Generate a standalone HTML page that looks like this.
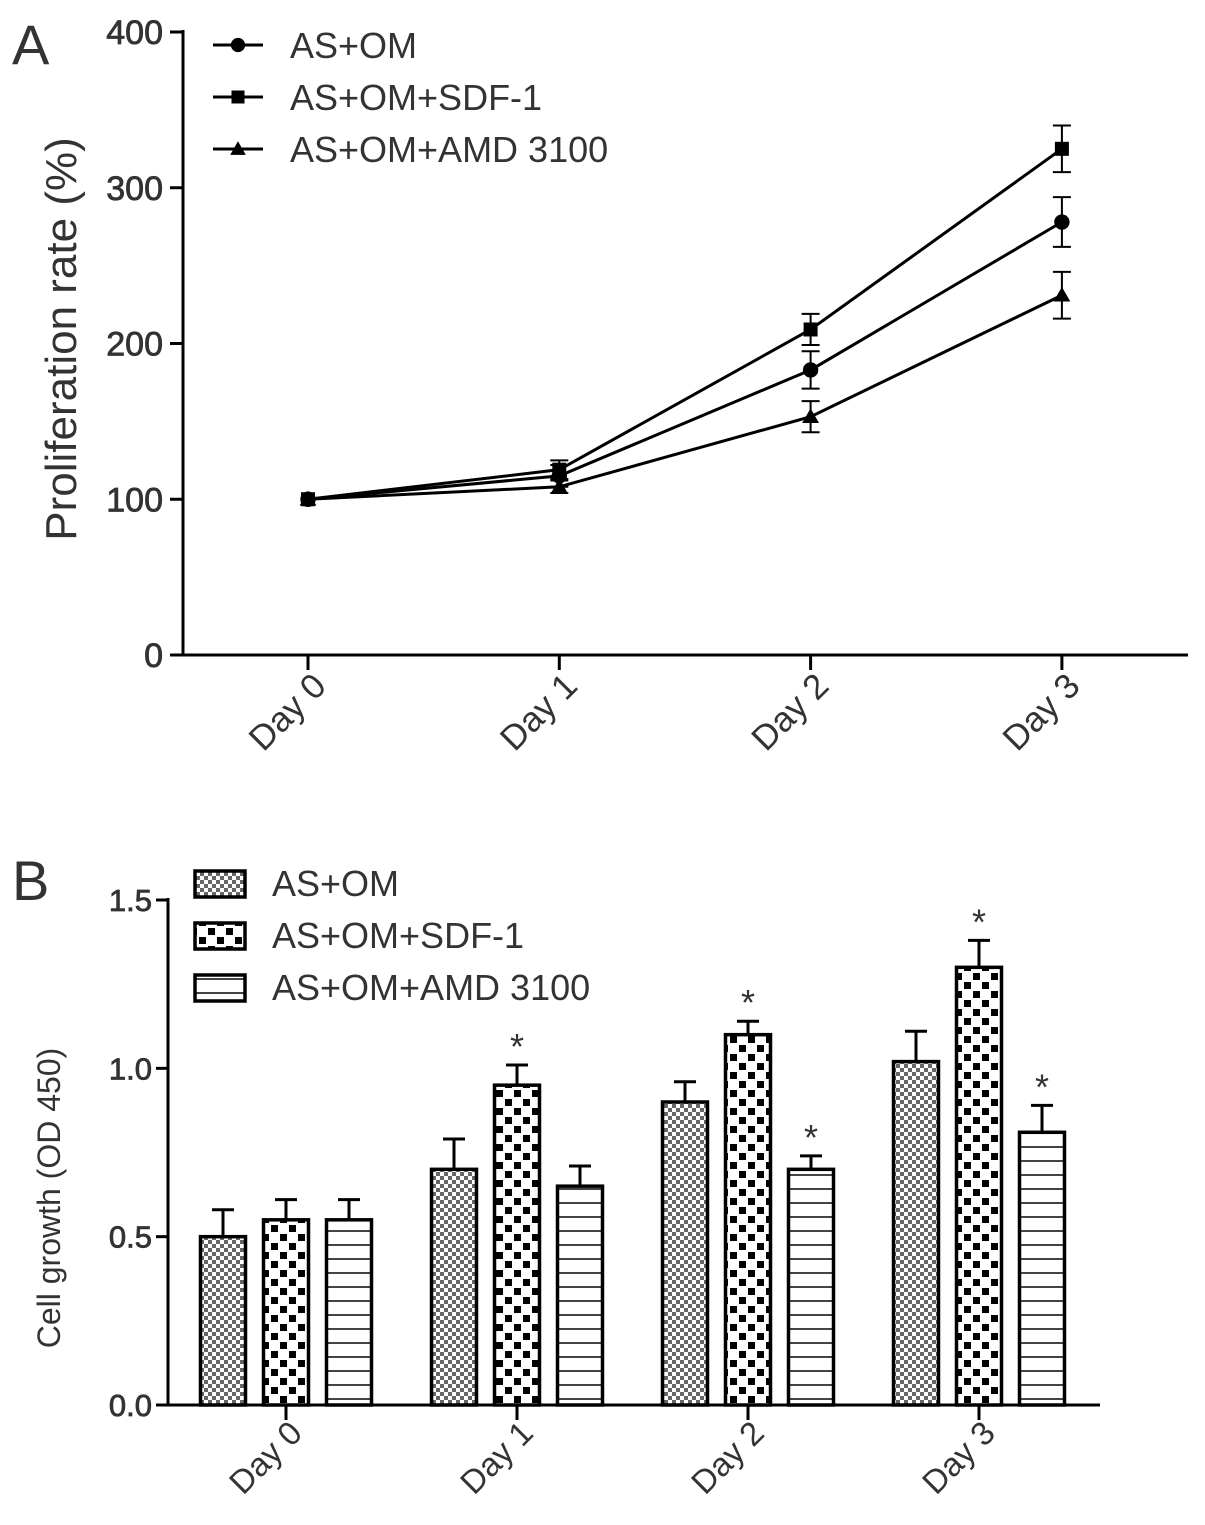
<!DOCTYPE html>
<html><head><meta charset="utf-8"><style>
html,body{margin:0;padding:0;background:#fff;}
svg{display:block;font-family:"Liberation Sans",Arial,sans-serif;}
</style></head><body>
<svg id="s" width="1205" height="1525" viewBox="0 0 1205 1525" xmlns="http://www.w3.org/2000/svg">
<defs>
<pattern id="pFine" width="8" height="8" patternUnits="userSpaceOnUse">
<rect width="8" height="8" fill="#fff"/><rect width="4" height="4" fill="#666"/><rect x="4" y="4" width="4" height="4" fill="#666"/>
</pattern>
<pattern id="pCheck" width="18" height="18" patternUnits="userSpaceOnUse">
<rect width="18" height="18" fill="#fff"/><rect x="1" y="1" width="7" height="7" fill="#000"/><rect x="10" y="10" width="7" height="7" fill="#000"/>
</pattern>
<pattern id="pLines" width="10" height="14" patternUnits="userSpaceOnUse">
<rect width="10" height="14" fill="#fff"/><rect y="12" width="10" height="2" fill="#444"/>
</pattern>
</defs>
<g id="A"></g>
<g id="B"></g>
</svg>
<script>
const daysA=["Day 0","Day 1","Day 2","Day 3"];
const omA=[100,115,183,278];
const omAerr=[0,7,12,16];
const sdfA=[100,119,209,325];
const sdfAerr=[0,6,10,15];
const amdA=[100,108,153,231];
const amdAerr=[0,4,10,15];
const ticksA=[0,100,200,300,400];

const daysB=["Day 0","Day 1","Day 2","Day 3"];
const omB=[0.50,0.70,0.90,1.02];
const omBerr=[0.08,0.09,0.06,0.09];
const sdfB=[0.55,0.95,1.10,1.30];
const sdfBerr=[0.06,0.06,0.04,0.08];
const amdB=[0.55,0.65,0.70,0.81];
const amdBerr=[0.06,0.06,0.04,0.08];
const starsSdf=[false,true,true,true];
const starsAmd=[false,false,true,true];
const ticksB=[0.0,0.5,1.0,1.5];
const ticksBLabels=["0.0","0.5","1.0","1.5"];

const NS="http://www.w3.org/2000/svg";
function mk(p,t,a,txt){const e=document.createElementNS(NS,t);for(const k in a)e.setAttribute(k,a[k]);if(txt!=null)e.textContent=txt;p.appendChild(e);return e;}
const TC='#333';

// ---- Chart A
const A=document.getElementById('A');
const yA=v=>655-v*(623/400);
const xA=i=>308+i*251.3;
let e;
e=mk(A,'line',{x1:183,y1:30,x2:183,y2:656,stroke:'#000','stroke-width':3});

e=mk(A,'line',{x1:182,y1:655,x2:1188,y2:655,stroke:'#000','stroke-width':3});

ticksA.forEach(t=>{
 mk(A,'line',{x1:170,y1:yA(t),x2:183,y2:yA(t),stroke:'#000','stroke-width':3});
 e=mk(A,'text',{x:163,y:yA(t)+12,'text-anchor':'end','font-size':34,stroke:TC,'stroke-width':0.8,fill:TC},String(t));
 
});
daysA.forEach((d,i)=>{
 mk(A,'line',{x1:xA(i),y1:655,x2:xA(i),y2:670,stroke:'#000','stroke-width':3});
 e=mk(A,'text',{x:0,y:0,'text-anchor':'end','font-size':35,fill:TC,transform:`translate(${xA(i)+20},${688}) rotate(-45)`},d);
 
});
e=mk(A,'text',{x:0,y:0,'text-anchor':'middle','font-size':44,fill:TC,transform:'translate(76,339) rotate(-90)'},'Proliferation rate (%)');

e=mk(A,'text',{x:12,y:64,'font-size':56,fill:TC},'A');


function marker(g,type,x,y,s){
 if(type==='c')return mk(g,'circle',{cx:x,cy:y,r:s*0.55,fill:'#000'});
 if(type==='s')return mk(g,'rect',{x:x-s/2,y:y-s/2,width:s,height:s,fill:'#000'});
 return mk(g,'polygon',{points:`${x},${y-s*0.6} ${x-s*0.6},${y+s*0.45} ${x+s*0.6},${y+s*0.45}`,fill:'#000'});
}
const seriesA=[[omA,omAerr,'c','line-as-om'],[sdfA,sdfAerr,'s','line-as-om-sdf1'],[amdA,amdAerr,'t','line-as-om-amd3100']];
seriesA.forEach(([vals,errs,m,nm])=>{
 const g=mk(A,'g',{});
 
 mk(g,'polyline',{points:vals.map((v,i)=>xA(i)+','+yA(v)).join(' '),fill:'none',stroke:'#000','stroke-width':3});
 vals.forEach((v,i)=>{
  if(errs[i]>0){
   const x=xA(i),y1=yA(v+errs[i]),y2=yA(v-errs[i]);
   mk(g,'line',{x1:x,y1:y1,x2:x,y2:y2,stroke:'#000','stroke-width':2});
   mk(g,'line',{x1:x-9,y1:y1,x2:x+9,y2:y1,stroke:'#000','stroke-width':2});
   mk(g,'line',{x1:x-9,y1:y2,x2:x+9,y2:y2,stroke:'#000','stroke-width':2});
  }
  const p=marker(g,m,xA(i),yA(v),14);
  
 });
});
const legA=[['AS+OM','c'],['AS+OM+SDF-1','s'],['AS+OM+AMD 3100','t']];
legA.forEach(([l,m],i)=>{
 const y=45+i*52;
 const g=mk(A,'g',{});
 
 mk(g,'line',{x1:213,y1:y,x2:263,y2:y,stroke:'#000','stroke-width':3});
 marker(g,m,238,y,13);
 mk(g,'text',{x:290,y:y+13,'font-size':36,fill:TC},l);
});

// ---- Chart B
const B=document.getElementById('B');
const yB=v=>1405-v*(505/1.5);
const xB=i=>286+i*231;
const bw=45, offs=[-63,0,63];
e=mk(B,'line',{x1:168,y1:898,x2:168,y2:1406,stroke:'#000','stroke-width':3});

e=mk(B,'line',{x1:167,y1:1405,x2:1100,y2:1405,stroke:'#000','stroke-width':3});

ticksB.forEach((t,i)=>{
 mk(B,'line',{x1:156,y1:yB(t),x2:168,y2:yB(t),stroke:'#000','stroke-width':3});
 e=mk(B,'text',{x:152,y:yB(t)+11,'text-anchor':'end','font-size':31,stroke:TC,'stroke-width':0.8,fill:TC},ticksBLabels[i]);
 
});
daysB.forEach((d,i)=>{
 mk(B,'line',{x1:xB(i),y1:1405,x2:xB(i),y2:1420,stroke:'#000','stroke-width':3});
 e=mk(B,'text',{x:0,y:0,'text-anchor':'end','font-size':33,fill:TC,transform:`translate(${xB(i)+18},${1435}) rotate(-45)`},d);
 
});
e=mk(B,'text',{x:0,y:0,'text-anchor':'middle','font-size':32,fill:TC,transform:'translate(60,1198) rotate(-90)'},'Cell growth (OD 450)');

e=mk(B,'text',{x:12,y:900,'font-size':56,fill:TC},'B');


const fills=['url(#pFine)','url(#pCheck)','url(#pLines)'];
const seriesB=[[omB,omBerr,null],[sdfB,sdfBerr,starsSdf],[amdB,amdBerr,starsAmd]];
seriesB.forEach(([vals,errs,stars],s)=>{
 vals.forEach((v,i)=>{
  const cx=xB(i)+offs[s];
  const top=yB(v);
  const eb=yB(v+errs[i]);
  mk(B,'line',{x1:cx,y1:top,x2:cx,y2:eb,stroke:'#000','stroke-width':3});
  mk(B,'line',{x1:cx-11,y1:eb,x2:cx+11,y2:eb,stroke:'#000','stroke-width':3});
  const r=mk(B,'rect',{x:cx-bw/2,y:top,width:bw,height:1405-top,fill:fills[s],stroke:'#000','stroke-width':3.5});
  
  
  if(stars&&stars[i]){
   const st=mk(B,'text',{x:cx,y:eb-6,'text-anchor':'middle','font-size':36,fill:TC},'*');
   
   
  }
 });
});
const legB=['AS+OM','AS+OM+SDF-1','AS+OM+AMD 3100'];
legB.forEach((l,i)=>{
 const y=883+i*52;
 const g=mk(B,'g',{});
 
 mk(g,'rect',{x:195,y:y-12,width:50,height:26,fill:fills[i],stroke:'#000','stroke-width':3.5});
 mk(g,'text',{x:272,y:y+13,'font-size':36,fill:TC},l);
});
</script>
</body></html>
